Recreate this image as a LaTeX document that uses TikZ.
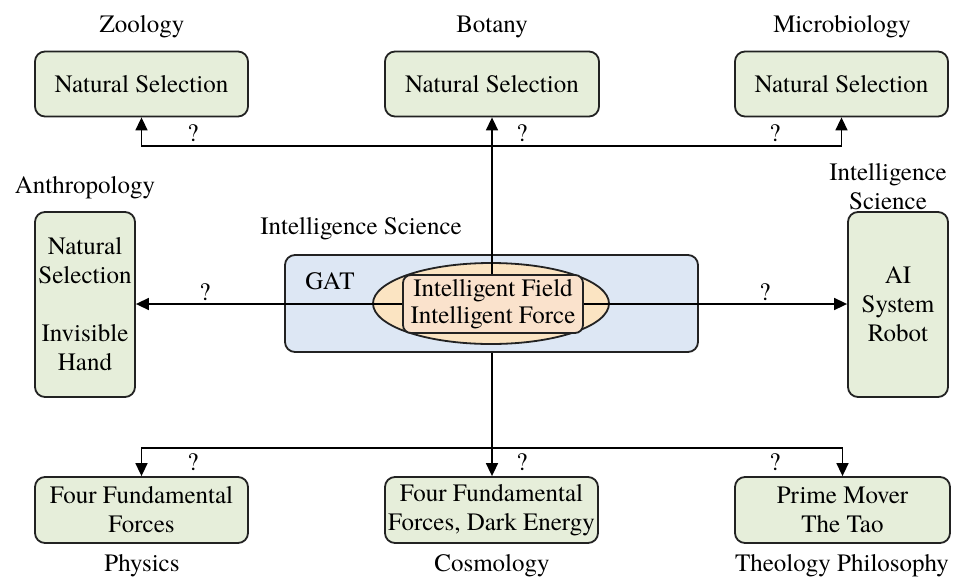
\documentclass[tikz,border=0pt]{standalone}
\usepackage{fontspec}
\setmainfont{texgyretermes}[Extension=.otf, UprightFont=*-regular, BoldFont=*-bold, ItalicFont=*-italic, BoldItalicFont=*-bolditalic]
\usetikzlibrary{arrows.meta,shapes.geometric}
\definecolor{boxgreen}{HTML}{E6EEDA}
\definecolor{gatblue}{HTML}{DDE7F4}
\definecolor{fieldorange}{HTML}{FBE4C2}
\definecolor{forcepeach}{HTML}{FAE2CC}
\definecolor{edge}{HTML}{222222}
\tikzset{
  every node/.style={font=\rmfamily\fontsize{25}{29}\selectfont},
  field/.style={draw=edge, line width=1.8pt, rounded corners=10pt, fill=boxgreen, align=center, inner sep=0pt},
  caption/.style={align=center, inner sep=0pt},
  qmark/.style={inner sep=0pt},
  conn/.style={line width=1.6pt, draw=black, -{Triangle[length=13pt,width=12pt]}},
}
\begin{document}
\begin{tikzpicture}[x=1pt,y=-1pt]
\useasboundingbox (0,0) rectangle (959,579);

% upper row: the three life sciences
\node[field, minimum width=213pt, minimum height=65pt] (zoo) at (141.5,84) {Natural Selection};
\node[field, minimum width=214pt, minimum height=65pt] (bot) at (492,84) {Natural Selection};
\node[field, minimum width=213pt, minimum height=65pt] (mic) at (841.5,84) {Natural Selection};
\node[caption] (zoolab) at (142,27) {Zoology};
\node[caption] (botlab) at (492,27) {Botany};
\node[caption] (miclab) at (842,27) {Microbiology};

% side columns
\node[field, minimum width=100pt, minimum height=185pt] (anth) at (85,304.5) {Natural\\Selection\\[29pt]Invisible\\Hand};
\node[caption] (anthlab) at (85,188) {Anthropology};
\node[field, minimum width=100pt, minimum height=185pt] (ais) at (898,304.5) {AI\\System\\Robot};
\node[caption] (aislab) at (888,187) {Intelligence\\Science};

% lower row: physical and philosophical fields
\node[field, minimum width=213pt, minimum height=66pt] (phy) at (141.5,510) {Four Fundamental\\Forces};
\node[field, minimum width=213pt, minimum height=66pt] (cos) at (491.5,510) {Four Fundamental\\Forces, Dark Energy};
\node[field, minimum width=215pt, minimum height=66pt] (the) at (842.5,510) {Prime Mover\\The Tao};
\node[caption] (phylab) at (142,566) {Physics};
\node[caption] (coslab) at (492,566) {Cosmology};
\node[caption] (thelab) at (842,566) {Theology Philosophy};

% central GAT block
\node[caption] (islab) at (361,229) {Intelligence Science};
\node[draw=edge, line width=1.8pt, rounded corners=10pt, fill=gatblue, minimum width=413pt, minimum height=97pt] (gat) at (491.5,303.5) {};
\node[caption] (gatlab) at (330,281) {GAT};
\node[draw=edge, line width=1.8pt, ellipse, fill=fieldorange, minimum width=236pt, minimum height=81pt, inner sep=0pt] (ell) at (491,303.5) {};
\node[draw=edge, line width=1.8pt, rounded corners=8pt, fill=forcepeach, minimum width=180pt, minimum height=58pt, align=center, inner sep=0pt,
      font=\rmfamily\fontsize{25}{27}\selectfont] (inner) at (493,304) {Intelligent Field\\Intelligent Force};

% connectors
\coordinate (topbar) at (492,146);
\coordinate (botbar) at (492,448);
\draw[conn] (inner.north -| bot.south) -- (bot.south);
\draw[conn] (topbar) -| (zoo.south);
\draw[conn] (topbar) -| (mic.south);
\draw[conn] (inner.west) -- (inner.west -| anth.east);
\draw[conn] (inner.east) -- (inner.east -| ais.west);
\draw[conn] (gat.south -| bot.south) -- (cos.north -| bot.south);
\draw[conn] (botbar) -| (phy.north);
\draw[conn] (botbar) -| (the.north);

% question marks on the links
\node[qmark] (q1) at (193,133) {?};
\node[qmark] (q2) at (522,133) {?};
\node[qmark] (q3) at (775,133) {?};
\node[qmark] (q4) at (205,292) {?};
\node[qmark] (q5) at (765,292) {?};
\node[qmark] (q6) at (193,462) {?};
\node[qmark] (q7) at (522,462) {?};
\node[qmark] (q8) at (775,462) {?};
\end{tikzpicture}
\end{document}
